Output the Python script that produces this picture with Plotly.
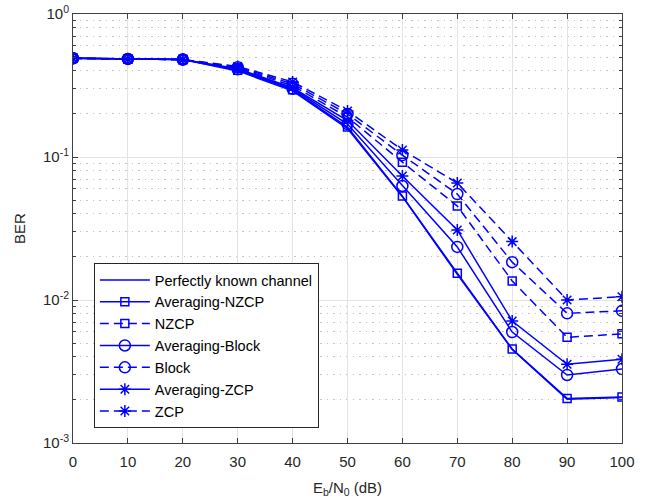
import plotly.graph_objects as go

snr = [0, 10, 20, 30, 40, 50, 60, 70, 80, 90, 100]

ber_perfect   = [0.490, 0.485, 0.480, 0.400, 0.290, 0.158, 0.0528, 0.0151, 0.00450, 0.00202, 0.00208]
ber_avg_nzcp  = [0.490, 0.485, 0.480, 0.405, 0.295, 0.162, 0.0533, 0.0154, 0.00454, 0.00205, 0.00210]
ber_nzcp      = [0.490, 0.485, 0.480, 0.420, 0.315, 0.190, 0.0920, 0.0454, 0.0136, 0.00548, 0.00580]
ber_avg_block = [0.490, 0.485, 0.480, 0.410, 0.300, 0.170, 0.0627, 0.0235, 0.00597, 0.00299, 0.00329]
ber_block     = [0.490, 0.485, 0.480, 0.425, 0.325, 0.200, 0.1030, 0.0551, 0.0184, 0.00807, 0.00840]
ber_avg_zcp   = [0.490, 0.485, 0.480, 0.415, 0.305, 0.180, 0.0736, 0.0309, 0.00713, 0.00355, 0.00385]
ber_zcp       = [0.490, 0.485, 0.480, 0.430, 0.335, 0.210, 0.1120, 0.0658, 0.0256, 0.0100, 0.01055]

names = ["Perfectly known channel", "Averaging-NZCP", "NZCP", "Averaging-Block",
         "Block", "Averaging-ZCP", "ZCP"]

ytick_vals = [1e-3, 1e-2, 1e-1, 1]
ytick_text = ["10<sup>-3</sup>", "10<sup>-2</sup>", "10<sup>-1</sup>", "10<sup>0</sup>"]
yminor_vals = [m * 10 ** e for e in (-3, -2, -1) for m in range(2, 10)]

blue = "#0000ff"
dash = "9px,5px"
series = [
    (ber_perfect, "solid", None, 0),
    (ber_avg_nzcp, "solid", "square-open", 8),
    (ber_nzcp, dash, "square-open", 8),
    (ber_avg_block, "solid", "circle-open", 11),
    (ber_block, dash, "circle-open", 11),
    (ber_avg_zcp, "solid", "asterisk-open", 10),
    (ber_zcp, dash, "asterisk-open", 10),
]

fig = go.Figure()
for (vals, d, sym, sz), nm in zip(series, names):
    if sym is None:
        fig.add_trace(go.Scatter(x=snr, y=vals, name=nm, mode="lines",
                                 line=dict(color=blue, width=1.5, dash=d)))
    else:
        fig.add_trace(go.Scatter(x=snr, y=vals, name=nm, mode="lines+markers",
                                 line=dict(color=blue, width=1.5, dash=d),
                                 marker=dict(symbol=sym, size=sz, color=blue,
                                             line=dict(color=blue, width=1.5))))

FONT = "Liberation Sans, Arial"
axis_common = dict(showline=True, linecolor="#404040", linewidth=1, mirror="allticks",
                   ticks="inside", ticklen=5, tickcolor="#404040", automargin=False,
                   gridcolor="#e3e3e3", gridwidth=1, zeroline=False,
                   tickfont=dict(family=FONT, size=15, color="#262626"))

fig.update_xaxes(range=[0, 100], tickmode="array", tickvals=snr, ticklabelstandoff=5,
                 title=dict(text="E<sub>b</sub>/N<sub>0</sub> (dB)", standoff=13,
                            font=dict(family=FONT, size=15, color="#262626")),
                 **axis_common)
fig.update_yaxes(type="log", range=[-3, 0], tickmode="array", tickvals=ytick_vals,
                 ticktext=ytick_text,
                 minor=dict(tickmode="array", tickvals=yminor_vals, ticks="inside", ticklen=3,
                            tickcolor="#404040", showgrid=True, gridcolor="#c4c4c4",
                            griddash="1.5px,5px", gridwidth=1),
                 title=dict(text="BER", standoff=13,
                            font=dict(family=FONT, size=15, color="#262626")),
                 **axis_common)

fig.update_layout(
    width=648, height=502,
    margin=dict(l=73, r=26, t=14, b=59),
    paper_bgcolor="white", plot_bgcolor="white",
    font=dict(family=FONT, size=15, color="black"),
    legend=dict(x=0.038, y=0.035, xanchor="left", yanchor="bottom",
                bgcolor="white", bordercolor="#262626", borderwidth=1,
                itemwidth=50, tracegroupgap=0,
                font=dict(family=FONT, size=14.5, color="black")),
)

fig.write_html("out.html")
